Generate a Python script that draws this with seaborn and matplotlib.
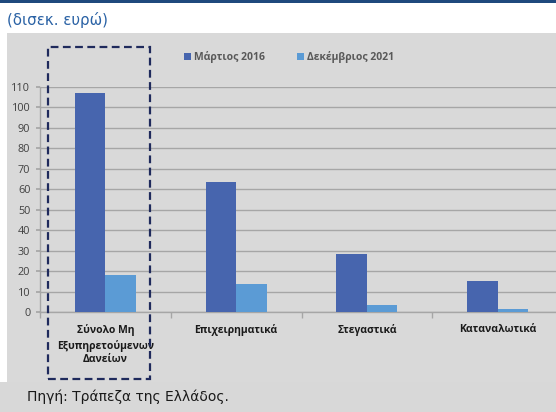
import matplotlib
matplotlib.use("Agg")
import matplotlib.pyplot as plt
import seaborn as sns
import pandas as pd
from matplotlib.patches import Rectangle, Patch

categories = ["Σύνολο Μη\nΕξυπηρετούμενων\nΔανείων", "Επιχειρηματικά", "Στεγαστικά", "Καταναλωτικά"]
series_names = ["Μάρτιος 2016", "Δεκέμβριος 2021"]
march_2016 = [107, 63.5, 28.5, 15]
dec_2021 = [18, 13.5, 3.5, 1.5]
y_ticks = list(range(0, 111, 10))

colors = ["#4765AE", "#5B9BD5"]
panel_gray = "#D9D9D9"

df = pd.DataFrame({
    "cat": categories * 2,
    "val": march_2016 + dec_2021,
    "series": [series_names[0]] * 4 + [series_names[1]] * 4,
})

sns.set_theme(style="white")
plt.rcParams['font.family'] = ['DejaVu Sans']

W, H = 556, 412
fig = plt.figure(figsize=(W / 100, H / 100), dpi=100, facecolor="white")

def fr(x0, y0, x1, y1):
    return (x0 / W, 1 - y1 / H, (x1 - x0) / W, (y1 - y0) / H)

x, y, w, h = fr(7, 33, 556, 382)
fig.add_artist(Rectangle((x, y), w, h, transform=fig.transFigure, facecolor=panel_gray, edgecolor="none", zorder=0))
x, y, w, h = fr(0, 382, 556, 412)
fig.add_artist(Rectangle((x, y), w, h, transform=fig.transFigure, facecolor="#D8D8D8", edgecolor="none", zorder=0))
x, y, w, h = fr(0, 0, 556, 3)
fig.add_artist(Rectangle((x, y), w, h, transform=fig.transFigure, facecolor="#1F497D", edgecolor="none", zorder=0))

ax = fig.add_axes(fr(40, 87, 563, 312))
ax.patch.set_visible(False)

sns.barplot(data=df, x="cat", y="val", hue="series", palette=colors, width=0.466,
            gap=0, saturation=1, ax=ax, legend=False, zorder=3, linewidth=0, edgecolor="none")

ax.set_xlim(-0.5, 3.5)
ax.set_ylim(0, 110)
ax.set_yticks(y_ticks)
ax.set_yticklabels([str(t) for t in y_ticks], fontsize=7.8, color="#404040", family="Open Sans")
ax.yaxis.grid(True, color="#A6A6A6", linewidth=1.0, zorder=0)
ax.set_axisbelow(True)
ax.set_xlabel("")
ax.set_ylabel("")

for s in ["top", "right"]:
    ax.spines[s].set_visible(False)
ax.spines["left"].set_color("#A6A6A6")
ax.spines["bottom"].set_color("#A6A6A6")
ax.spines["left"].set_linewidth(1.0)
ax.spines["bottom"].set_linewidth(1.0)

ax.tick_params(axis="y", which="major", length=3, color="#A6A6A6", pad=4, left=True)
ax.set_xticks(range(4))
ax.set_xticklabels(categories, fontsize=7.5, fontweight="bold", color="#1A1A1A",
                   family="Open Sans", linespacing=1.35)
ax.tick_params(axis="x", which="major", length=0, pad=9)
ax.set_xticks([-0.5, 0.5, 1.5, 2.5, 3.5], minor=True)
ax.tick_params(axis="x", which="minor", length=4, color="#A6A6A6", bottom=True)

handles = [Patch(facecolor=c, edgecolor="none") for c in colors]
leg = fig.legend(handles, series_names, loc="center", bbox_to_anchor=(289 / W, 1 - 57 / H),
                 ncol=2, frameon=False, handlelength=0.7, handleheight=0.7, handletextpad=0.3,
                 columnspacing=3.0, prop={"family": "Open Sans", "size": 7.5, "weight": "bold"})
for t in leg.get_texts():
    t.set_color("#595959")

x, y, w, h = fr(48, 47, 150, 379)
fig.add_artist(Rectangle((x, y), w, h, transform=fig.transFigure, facecolor="none",
                         edgecolor="#1F2A5C", linewidth=1.6, linestyle=(0, (3.5, 2)), zorder=10))

fig.text(7 / W, 1 - 20 / H, "(δισεκ. ευρώ)", fontsize=10.8, color="#2A62A5", va="center", ha="left")
fig.text(27 / W, 1 - 397 / H, "Πηγή: Τράπεζα της Ελλάδος.", fontsize=10, color="#1A1A1A", va="center", ha="left")

fig.savefig("out.png", dpi=100, facecolor="white")
